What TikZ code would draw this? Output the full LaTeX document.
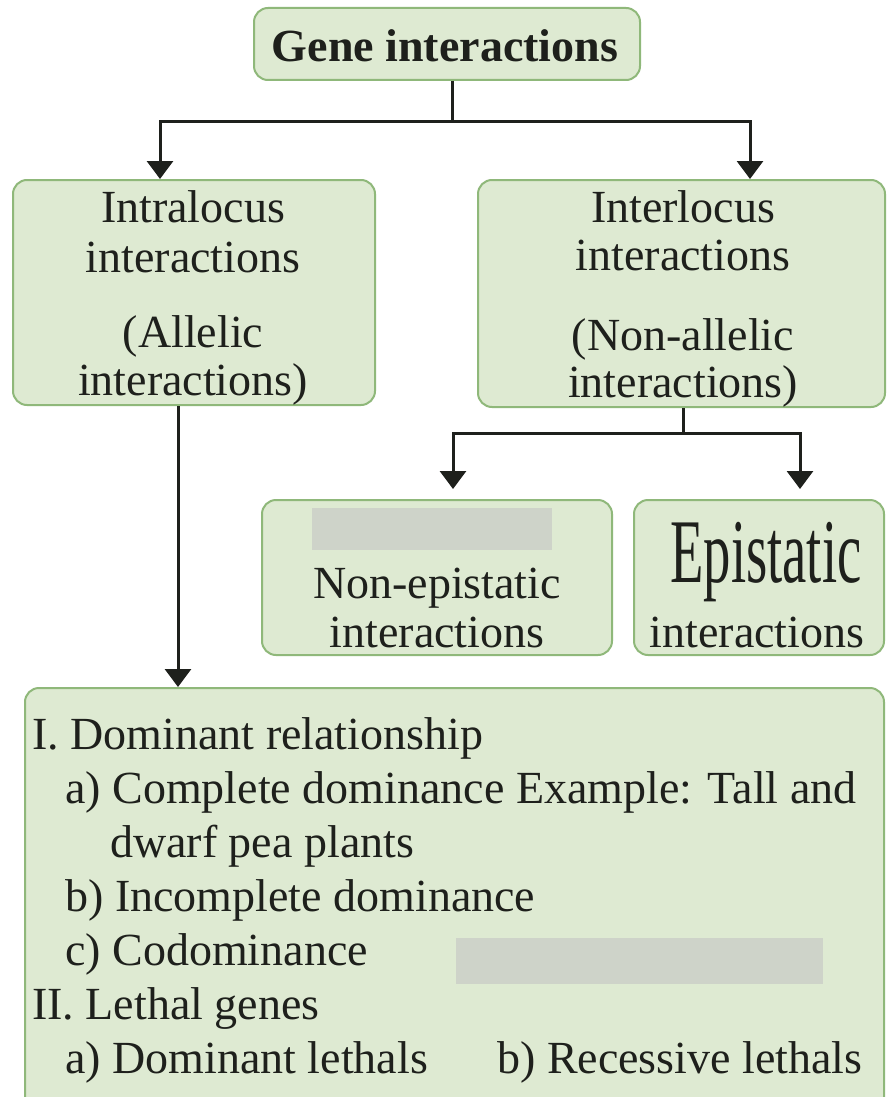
\documentclass[tikz,border=0pt]{standalone}
\usepackage{fontspec}
\setmainfont{Liberation Serif}
\usetikzlibrary{arrows.meta}

\definecolor{boxfill}{RGB}{222,234,210}
\definecolor{boxline}{RGB}{143,184,122}
\definecolor{redact}{RGB}{206,211,201}
\definecolor{ink}{RGB}{30,32,28}

\begin{document}
\begin{tikzpicture}[x=1pt,y=-1pt,
  box/.style={draw=boxline, fill=boxfill, line width=2pt, rounded corners=14pt, inner sep=0pt},
  lbl/.style={font=\fontsize{46}{52}\selectfont, text=ink, inner sep=0pt, anchor=base},
  item/.style={lbl, anchor=base west},
  link/.style={draw=ink, line width=3pt},
  arr/.style={link, -{Triangle[width=26pt,length=18pt]}},
  redaction/.style={fill=redact, draw=none}
]
\useasboundingbox (0,0) rectangle (886,1097);
\clip (0,0) rectangle (886,1097);
\fill[white] (0,0) rectangle (886,1097);

% boxes
\node[box, minimum width=386pt, minimum height=72pt]  (gene)   at (447,44)      {};
\node[box, minimum width=362pt, minimum height=225pt] (intra)  at (194,292.5)   {};
\node[box, minimum width=407pt, minimum height=227pt] (inter)  at (681.5,293.5) {};
\node[box, minimum width=350pt, minimum height=155pt] (nonepi) at (437,577.5)   {};
\node[box, minimum width=250pt, minimum height=155pt] (epi)    at (759,577.5)   {};
\node[box, minimum width=859pt, minimum height=500pt] (main)   at (454.5,938)   {};

% connector columns
\coordinate (s1) at (452,122);
\coordinate (xL) at (160,0);
\coordinate (xR) at (750,0);
\coordinate (xM) at (178,0);
\coordinate (s2) at (683,433);
\coordinate (xA) at (453,0);
\coordinate (xB) at (800,0);

% connectors
\draw[link] (gene.south -| s1) -- (s1);
\draw[arr] (s1) -| (intra.north -| xL);
\draw[arr] (s1) -| (inter.north -| xR);
\draw[arr] (intra.south -| xM) -- (main.north -| xM);
\draw[link] (inter.south -| s2) -- (s2);
\draw[arr, shorten >=10pt] (s2) -| (nonepi.north -| xA);
\draw[arr, shorten >=10pt] (s2) -| (epi.north -| xB);

% titles
\node[lbl, font=\bfseries\fontsize{46}{52}\selectfont] (tgene) at (445,62) {Gene interactions};

\node[lbl] (ta1) at (193,222) {Intralocus};
\node[lbl] (ta2) at (193,272) {interactions};
\node[lbl] (ta3) at (193,347) {(Allelic};
\node[lbl] (ta4) at (193,395) {interactions)};

\node[lbl] (tb1) at (683,222) {Interlocus};
\node[lbl] (tb2) at (683,270) {interactions};
\node[lbl] (tb3) at (683,350) {(Non-allelic};
\node[lbl] (tb4) at (683,397) {interactions)};

\fill[redaction] (312,508) rectangle (552,550);
\node[lbl] (tc1) at (437,598) {Non-epistatic};
\node[lbl] (tc2) at (437,647) {interactions};

\node[lbl, font=\fontsize{91}{91}\selectfont] (td1) at (766,582) {\scalebox{0.6}[1]{Epistatic}};
\node[lbl] (td2) at (757,647) {interactions};

% allelic interaction list
\node[item] (l1) at (32,749)  {I. Dominant relationship};
\node[item] (l2) at (65,803)  {a) Complete dominance Example: Tall and};
\node[item] (l3) at (110,857) {dwarf pea plants};
\node[item] (l4) at (65,911)  {b) Incomplete dominance};
\node[item] (l5) at (65,965)  {c) Codominance};
\fill[redaction] (456,938) rectangle (823,984);
\node[item] (l6) at (32,1019) {II. Lethal genes};
\node[item] (l7) at (65,1073) {a) Dominant lethals};
\node[item] (l8) at (497,1073) {b) Recessive lethals};
\end{tikzpicture}
\end{document}
